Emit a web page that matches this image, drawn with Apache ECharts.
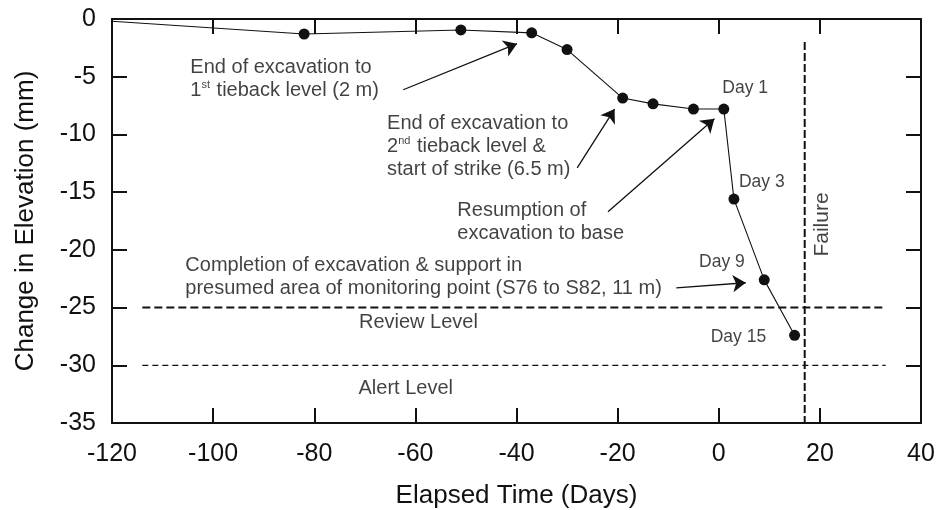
<!DOCTYPE html>
<html><head><meta charset="utf-8">
<script src="https://cdn.jsdelivr.net/npm/echarts@6/dist/echarts.min.js"></script>
<style>html,body{margin:0;padding:0;background:#fff}#c{width:936px;height:510px}</style>
</head><body><div id="c"></div>
<script>
// ---- data ----
const days      = [-120, -82, -51, -37, -30, -19, -13, -5, 1, 3, 9, 15];
const elevation = [-0.2, -1.3, -0.95, -1.2, -2.65, -6.85, -7.35, -7.8, -7.8, -15.6, -22.6, -27.4];
const xTickMin = -120, xTickMax = 40, xTickStep = 20;
const yTickMin = -35, yTickMax = 0, yTickStep = 5;
const reviewLevel = -25;
const alertLevel = -30;
const levelLineDays = [-114, 33];
const failureDay = 17;
const failureSpan = [-2, -35];

// annotation texts with anchors (data coordinates)
const noteTexts = [
  'End of excavation to\n1{sup|st} tieback level (2 m)',
  'End of excavation to\n2{sup|nd} tieback level &\nstart of strike (6.5 m)',
  'Resumption of\nexcavation to base',
  'Completion of excavation & support in\npresumed area of monitoring point (S76 to S82, 11 m)'
];
const noteAnchors = [[-104.5, -3.23], [-65.6, -8.08], [-51.7, -15.63], [-105.5, -20.4]];
const dayTexts = ['Day 1', 'Day 3', 'Day 9', 'Day 15'];
const dayAnchors = [[0.7, -6.0], [4.0, -14.1], [-3.9, -21.05], [-1.6, -27.6]];
const levelTexts = ['Review Level', 'Alert Level'];
const levelAnchors = [[-59.4, -26.3], [-61.9, -31.98]];
const failureText = 'Failure';
const failureAnchor = [20.4, -17.8];
// arrows: [fromX, fromY, toX, toY]
const arrows = [
  [-62.4, -6.13, -39.9, -2.14],
  [-28.0, -12.9, -20.6, -7.8],
  [-21.9, -16.7, -0.86, -8.65],
  [-8.4, -23.3, 5.35, -22.85]
];

const FONT = 'Liberation Sans, Arial, Helvetica, sans-serif';
const INK = '#111';
const TXT = '#111';

const chart = echarts.init(document.getElementById('c'), null, {renderer: 'canvas'});

function axisBase(extra) {
  return Object.assign({
    type: 'value',
    axisLine: {show: true, onZero: false, lineStyle: {color: INK, width: 2}},
    axisTick: {show: true, inside: true, length: 15, lineStyle: {color: INK, width: 2}},
    splitLine: {show: false}
  }, extra);
}

const xCommon = {min: xTickMin, max: xTickMax, interval: xTickStep};
const yCommon = {min: yTickMin, max: yTickMax, interval: yTickStep};

const textSeries = (data, label) => ({
  type: 'scatter', silent: true, symbolSize: 1, z: 10,
  itemStyle: {color: 'rgba(0,0,0,0)'},
  data: data,
  label: Object.assign({show: true, position: 'inside', color: TXT, fontFamily: FONT}, label)
});

const option = {
  animation: false,
  backgroundColor: '#fff',
  grid: {left: 112, right: 15, top: 19, bottom: 87, containLabel: false, outerBoundsMode: 'none'},
  xAxis: [
    axisBase(Object.assign({}, xCommon, {
      position: 'bottom',
      axisLabel: {fontSize: 25, margin: 19, color: TXT, fontFamily: FONT},
      name: 'Elapsed Time (Days)', nameLocation: 'middle', nameGap: 60,
      nameTextStyle: {fontSize: 26, color: TXT, fontFamily: FONT}
    })),
    axisBase(Object.assign({}, xCommon, {position: 'top', axisLabel: {show: false}}))
  ],
  yAxis: [
    axisBase(Object.assign({}, yCommon, {
      position: 'left',
      axisLabel: {fontSize: 25, margin: 16, color: TXT, fontFamily: FONT},
      name: 'Change in Elevation (mm)', nameLocation: 'middle', nameGap: 73,
      nameTextStyle: {fontSize: 26, color: TXT, fontFamily: FONT}
    })),
    axisBase(Object.assign({}, yCommon, {position: 'right', axisLabel: {show: false}}))
  ],
  series: [
    {
      type: 'line', z: 5,
      data: days.map((d, i) => ({value: [d, elevation[i]], symbol: i === 0 ? 'none' : 'circle'})),
      symbolSize: 11,
      lineStyle: {color: INK, width: 1.1},
      itemStyle: {color: '#111'}
    },
    {
      type: 'line', showSymbol: false, symbol: 'none',
      data: levelLineDays.map(d => [d, reviewLevel]),
      lineStyle: {color: INK, width: 2, type: [8, 4]}
    },
    {
      type: 'line', showSymbol: false, symbol: 'none',
      data: levelLineDays.map(d => [d, alertLevel]),
      lineStyle: {color: INK, width: 1.2, type: [6, 4]}
    },
    {
      type: 'line', showSymbol: false, symbol: 'none',
      data: failureSpan.map(v => [failureDay, v]),
      lineStyle: {color: INK, width: 2, type: [8, 3]}
    },
    {
      type: 'lines', coordinateSystem: 'cartesian2d', silent: true, z: 6,
      symbol: ['none', 'arrow'], symbolSize: [11, 13],
      lineStyle: {color: INK, width: 1.3, opacity: 1},
      data: arrows.map(a => ({coords: [[a[0], a[1]], [a[2], a[3]]]}))
    },
    textSeries(noteAnchors.map((p, i) => ({value: p, name: noteTexts[i]})), {
      formatter: p => p.name, align: 'left', verticalAlign: 'top',
      fontSize: 20, lineHeight: 23,
      rich: {sup: {fontSize: 11, lineHeight: 23, verticalAlign: 'top', color: TXT, fontFamily: FONT, padding: [0, 1, 0, 0]}}
    }),
    textSeries(dayAnchors.map((p, i) => ({value: p, name: dayTexts[i]})), {
      formatter: p => p.name, align: 'left', verticalAlign: 'middle', fontSize: 17.5
    }),
    textSeries(levelAnchors.map((p, i) => ({value: p, name: levelTexts[i]})), {
      formatter: p => p.name, align: 'center', verticalAlign: 'middle', fontSize: 20
    }),
    textSeries([{value: failureAnchor, name: failureText}], {
      formatter: p => p.name, align: 'center', verticalAlign: 'middle', fontSize: 21, rotate: 90
    })
  ]
};
chart.setOption(option);
</script>
</body></html>
